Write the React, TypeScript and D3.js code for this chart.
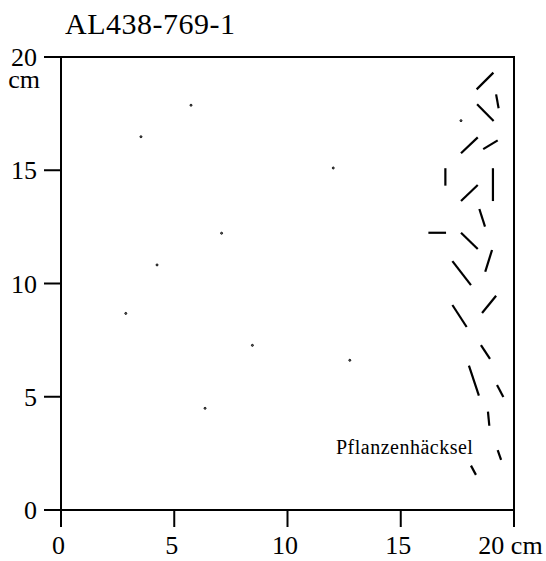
import React from "react";
import * as d3 from "d3";

// Sample sheet AL438-769-1: scattered points and plant-chaff fragments (cm)
const title = "AL438-769-1";
const tickValues = [0, 5, 10, 15, 20];
const chaffLabel = "Pflanzenhäcksel";

// Point finds [x, y] in cm
const points: [number, number][] = [
  [5.74, 17.87],
  [3.53, 16.48],
  [12.02, 15.1],
  [7.09, 12.22],
  [4.24, 10.82],
  [2.86, 8.68],
  [8.45, 7.27],
  [12.75, 6.61],
  [6.36, 4.49],
  [17.66, 17.19],
];

// Plant chaff fragments [x1, y1, x2, y2] in cm
const chaff: [number, number, number, number][] = [
  [18.35, 18.57, 19.09, 19.31],
  [19.21, 18.35, 19.32, 17.74],
  [18.37, 17.91, 19.1, 17.17],
  [17.66, 15.75, 18.4, 16.45],
  [18.64, 15.93, 19.28, 16.32],
  [16.97, 15.09, 16.97, 14.32],
  [19.07, 15.09, 19.07, 13.64],
  [17.66, 13.64, 18.4, 14.35],
  [18.47, 13.29, 18.72, 12.51],
  [16.22, 12.24, 17.0, 12.24],
  [17.66, 12.24, 18.4, 11.52],
  [19.03, 11.48, 18.73, 10.52],
  [17.28, 10.99, 18.1, 9.93],
  [19.21, 9.46, 18.59, 8.7],
  [17.28, 9.05, 17.91, 8.08],
  [18.54, 7.28, 18.94, 6.67],
  [18.01, 6.37, 18.45, 5.05],
  [19.25, 5.52, 19.53, 4.99],
  [18.85, 4.34, 18.91, 3.72],
  [19.28, 2.64, 19.43, 2.21],
  [18.1, 1.96, 18.32, 1.55],
];

const labelPos: [number, number] = [12.14, 2.47];

export default function App() {
  const x = d3.scaleLinear().domain([0, 20]).range([61, 514]);
  const y = d3.scaleLinear().domain([0, 20]).range([510, 57]);
  const font = "'Liberation Serif', 'Times New Roman', serif";
  const tickLen = 17;

  return (
    <svg
      width={546}
      height={561}
      style={{ position: "absolute", left: 0, top: 0, background: "#fff" }}
      fontFamily={font}
    >
      <text x={65} y={34} fontSize={30} letterSpacing={0.5} fill="#000">
        {title}
      </text>

      {/* frame */}
      <rect
        x={x(0)}
        y={y(20)}
        width={x(20) - x(0)}
        height={y(0) - y(20)}
        fill="none"
        stroke="#000"
        strokeWidth={2}
      />

      {/* y ticks; the top label carries the unit on a second line */}
      {tickValues.map((v) => (
        <g key={"yt" + v}>
          <line x1={x(0) - tickLen} x2={x(0)} y1={y(v)} y2={y(v)} stroke="#000" strokeWidth={2} />
          {v === 20 ? (
            <text fontSize={26} textAnchor="end" fill="#000">
              <tspan x={37} y={y(v) + 9}>{v}</tspan>
              <tspan x={40} y={y(v) + 31}>cm</tspan>
            </text>
          ) : (
            <text x={37} y={y(v) + 9} fontSize={26} textAnchor="end" fill="#000">
              {v}
            </text>
          )}
        </g>
      ))}

      {/* x ticks */}
      {tickValues.map((v) => (
        <g key={"xt" + v}>
          <line x1={x(v)} x2={x(v)} y1={y(0)} y2={y(0) + tickLen} stroke="#000" strokeWidth={2} />
          <text
            x={x(v) - (v === 20 ? 3.5 : 2.5)}
            y={554}
            fontSize={26}
            textAnchor="middle"
            fill="#000"
          >
            {v === 20 ? "20 cm" : v}
          </text>
        </g>
      ))}

      {/* point finds */}
      {points.map(([px, py], i) => (
        <circle key={"p" + i} cx={x(px)} cy={y(py)} r={1} fill="#777" stroke="#000" strokeWidth={0.9} />
      ))}

      {/* chaff fragments */}
      {chaff.map(([x1, y1, x2, y2], i) => (
        <line
          key={"c" + i}
          x1={x(x1)}
          y1={y(y1)}
          x2={x(x2)}
          y2={y(y2)}
          stroke="#000"
          strokeWidth={2.2}
        />
      ))}

      <text x={x(labelPos[0])} y={y(labelPos[1])} fontSize={20} letterSpacing={0.5} fill="#000">
        {chaffLabel}
      </text>
    </svg>
  );
}
